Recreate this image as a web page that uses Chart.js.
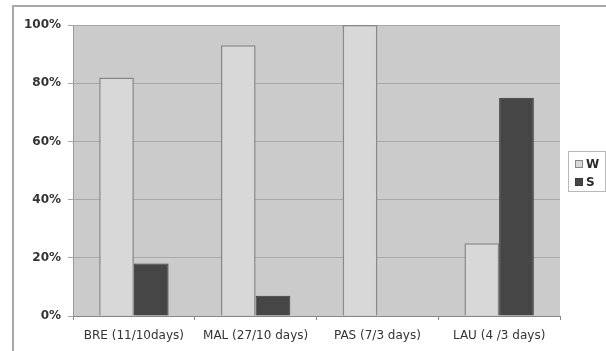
<!DOCTYPE html>
<html><head><meta charset="utf-8">
<style>html,body{margin:0;padding:0;background:#fff;}#wrap{width:606px;height:351px;position:relative;}</style>
<script src="https://cdn.jsdelivr.net/npm/chart.js@4/dist/chart.umd.min.js"></script>
</head><body><div id="wrap"><canvas id="c" width="606" height="351"></canvas></div>
<script>
const categories = ["BRE (11/10days)", "MAL (27/10 days)", "PAS (7/3 days)", "LAU (4 /3 days)"];
const seriesW = [82, 93, 100, 25];
const seriesS = [18, 7, 0, 75];
const yTicks = [0, 20, 40, 60, 80, 100];

const framePlugin = {
  id: 'frame',
  beforeDraw(chart) {
    const {ctx, chartArea: a} = chart;
    ctx.save();
    ctx.fillStyle = '#cbcbcb';
    ctx.fillRect(a.left, a.top, a.right - a.left, a.bottom - a.top);
    ctx.strokeStyle = '#a8a8a8';
    ctx.lineWidth = 2;
    ctx.beginPath();
    ctx.moveTo(13, 360); ctx.lineTo(13, 6); ctx.lineTo(620, 6);
    ctx.stroke();
    ctx.restore();
  },
  afterDraw(chart) {
    const {ctx} = chart;
    ctx.save();
    ctx.strokeStyle = '#b8b8b8';
    ctx.lineWidth = 1;
    ctx.strokeRect(568.5, 151.5, 37, 40);
    const items = chart.data.datasets;
    items.forEach((ds, i) => {
      const y = 160 + i * 18;
      ctx.fillStyle = ds.backgroundColor;
      ctx.fillRect(575, y, 8, 8);
      ctx.strokeStyle = ds.borderColor;
      ctx.lineWidth = 1;
      ctx.strokeRect(575.5, y + 0.5, 7, 7);
      ctx.fillStyle = '#2a2a2a';
      ctx.font = 'bold 12px "DejaVu Sans"';
      ctx.textBaseline = 'middle';
      ctx.textAlign = 'left';
      ctx.fillText(ds.label, 586, y + 4.5);
    });
    ctx.restore();
  }
};

new Chart(document.getElementById('c'), {
  type: 'bar',
  data: {
    labels: categories,
    datasets: [
      {label: 'W', data: seriesW, backgroundColor: '#d8d8d8', borderColor: '#888888', borderWidth: 1.5},
      {label: 'S', data: seriesS, backgroundColor: '#464646', borderColor: '#3a3a3a', borderWidth: 1}
    ]
  },
  options: {
    responsive: false,
    animation: false,
    devicePixelRatio: 1,
    layout: {padding: {left: 0, top: 25, right: 46, bottom: 0}},
    datasets: {bar: {categoryPercentage: 0.57, barPercentage: 1}},
    plugins: {
      tooltip: {enabled: false},
      legend: {display: false}
    },
    scales: {
      x: {
        afterFit(scale) { scale.height = 35; },
        grid: {display: true, drawOnChartArea: false, offset: true, color: '#888', tickLength: 4},
        border: {display: true, color: '#888'},
        ticks: {color: '#333', padding: 9, maxRotation: 0, font: {family: 'DejaVu Sans', size: 12}}
      },
      y: {
        min: 0, max: 100,
        afterFit(scale) { scale.width = 73; },
        afterBuildTicks(scale) { scale.ticks = yTicks.map(v => ({value: v})); },
        grid: {color: '#a9a9a9', tickLength: 5},
        border: {display: true, color: '#9a9a9a'},
        ticks: {color: '#333', padding: 7, callback: v => v + '%', font: {family: 'DejaVu Sans', size: 12, weight: 'bold'}}
      }
    }
  },
  plugins: [framePlugin]
});
</script></body></html>
